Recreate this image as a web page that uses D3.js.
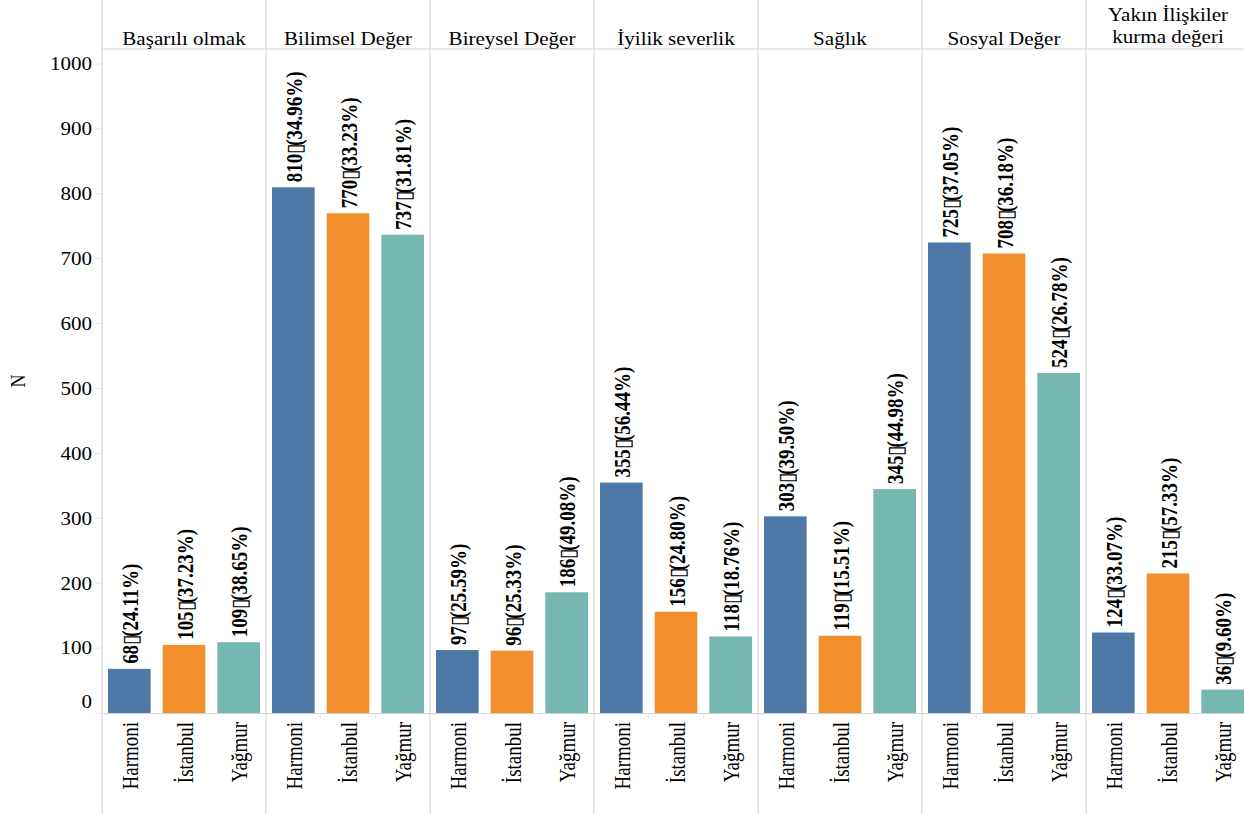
<!DOCTYPE html>
<html><head><meta charset="utf-8">
<script src="https://cdn.jsdelivr.net/npm/d3@7"></script>
<style>body{margin:0;background:#fff}svg{display:block}text{font-family:"Liberation Serif","Times New Roman",serif;fill:#000}</style>
</head><body>
<svg id="c" width="1244" height="814"></svg>
<script>
const panels = ["Başarılı olmak","Bilimsel Değer","Bireysel Değer","İyilik severlik","Sağlık","Sosyal Değer","Yakın İlişkiler kurma değeri"];
const panelLines = [["Başarılı olmak"],["Bilimsel Değer"],["Bireysel Değer"],["İyilik severlik"],["Sağlık"],["Sosyal Değer"],["Yakın İlişkiler","kurma değeri"]];
const groups = ["Harmoni","İstanbul","Yağmur"];
const counts = [
  [68,105,109],[810,770,737],[97,96,186],[355,156,118],[303,119,345],[725,708,524],[124,215,36]
];
const percents = [
  ["24.11","37.23","38.65"],["34.96","33.23","31.81"],["25.59","25.33","49.08"],
  ["56.44","24.80","18.76"],["39.50","15.51","44.98"],["37.05","36.18","26.78"],["33.07","57.33","9.60"]
];
const yTicks = [0,100,200,300,400,500,600,700,800,900,1000];
const colors = ["#4e79a7","#f28e2b","#76b7b2"];

const svg = d3.select("#c");
const SX = 1.17;
const left = 102, panelW = 164, headerY = 49, base = 713;
const y = d3.scaleLinear().domain([0,1000]).range([base, 64]);
const px = d3.scaleBand().domain(panels).range([left, left + panelW*panels.length]);
const bx = d3.scaleBand().domain(groups).range([0, panelW]).paddingInner(0.22).paddingOuter(0.11);
const grey = "#d3d3d3";

svg.append("line").attr("x1",left).attr("x2",1244).attr("y1",headerY).attr("y2",headerY).attr("stroke",grey);
svg.append("line").attr("x1",left).attr("x2",1244).attr("y1",base+0.5).attr("y2",base+0.5).attr("stroke",grey);

const ya = svg.append("g").attr("transform",`translate(${left},0)`);
ya.append("line").attr("y1",0).attr("y2",814).attr("stroke",grey);
yTicks.forEach(t=>{
  ya.append("line").attr("x1",-7).attr("x2",0).attr("y1",y(t)).attr("y2",y(t)).attr("stroke","#e6e6e6");
  const ty = t===0 ? y(t)-11 : y(t);
  ya.append("text").attr("transform",`translate(-10,${ty}) scale(${SX},1)`).attr("text-anchor","end")
    .attr("dy","0.35em").style("font-size","18px").text(t);
});
svg.append("text").attr("transform",`translate(25,381) scale(${SX},1) rotate(-90)`).attr("text-anchor","middle")
  .style("font-size","18px").text("N");

panels.forEach((p,i)=>{
  const g = svg.append("g").attr("transform",`translate(${px(p)},0)`);
  if(i>0) g.append("line").attr("y1",0).attr("y2",814).attr("stroke",grey);
  const lines = panelLines[i];
  lines.forEach((l,j)=>{
    const ty = lines.length===1 ? 45 : 21 + j*22;
    g.append("text").attr("transform",`translate(${panelW/2},${ty}) scale(${SX},1)`).attr("text-anchor","middle")
      .style("font-size","18px").text(l);
  });
  [1,2].forEach(k=>{
    const xx = bx.step()*k + bx.step()*bx.paddingOuter() - bx.step()*bx.paddingInner()/2;
    g.append("line").attr("x1",xx).attr("x2",xx).attr("y1",base).attr("y2",base+5).attr("stroke","#e8e8e8");
  });
  groups.forEach((gr,k)=>{
    const v = counts[i][k];
    const x0 = bx(gr);
    g.append("rect").attr("x",x0).attr("width",bx.bandwidth()).attr("y",y(v)).attr("height",base-y(v)).attr("fill",colors[k]);
    const cx = x0 + bx.bandwidth()/2 + 1;
    const t = g.append("text").attr("transform",`translate(${cx},${y(v)-5}) scale(${SX},1) rotate(-90)`)
      .attr("dy","0.35em").style("font-size","19px").style("font-weight","bold");
    t.append("tspan").text(v);
    t.append("tspan").style("font-weight","normal").text("\u25AF");
    t.append("tspan").attr("dx",-3).text(`(${percents[i][k]}%)`);
    g.append("text").attr("transform",`translate(${cx},${base+9}) scale(${SX},1) rotate(-90)`)
      .attr("text-anchor","end").attr("dy","0.35em").style("font-size","19px").text(gr);
  });
});
</script>
</body></html>
